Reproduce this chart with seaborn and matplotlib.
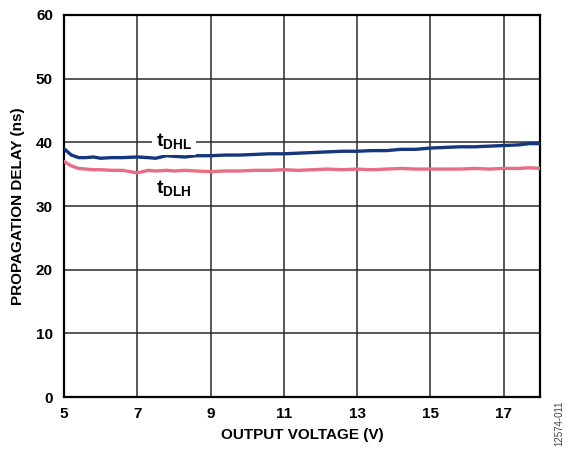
import matplotlib
matplotlib.use("Agg")
import matplotlib.pyplot as plt
import seaborn as sns
import pandas as pd

# Output voltage sweep (V)
voltage = [5.0, 5.2, 5.4, 5.6, 5.8, 6.0, 6.3, 6.6, 7.0, 7.3, 7.5, 7.8, 8.0, 8.3, 8.6, 9.0,
           9.4, 9.8, 10.2, 10.6, 11.0, 11.4, 11.8, 12.2, 12.6, 13.0, 13.4, 13.8, 14.2,
           14.6, 15.0, 15.4, 15.8, 16.2, 16.6, 17.0, 17.4, 17.7, 18.0]

# High-to-low propagation delay (ns)
t_dhl = [39.0, 38.0, 37.6, 37.6, 37.7, 37.5, 37.6, 37.6, 37.7, 37.6, 37.5, 37.9, 37.8,
         37.7, 37.9, 37.9, 38.0, 38.0, 38.1, 38.2, 38.2, 38.3, 38.4, 38.5, 38.6, 38.6,
         38.7, 38.7, 38.9, 38.9, 39.1, 39.2, 39.3, 39.3, 39.4, 39.5, 39.6, 39.8, 39.8]

# Low-to-high propagation delay (ns)
t_dlh = [37.0, 36.3, 35.9, 35.8, 35.7, 35.7, 35.6, 35.6, 35.2, 35.6, 35.5, 35.6, 35.5,
         35.6, 35.5, 35.4, 35.5, 35.5, 35.6, 35.6, 35.7, 35.6, 35.7, 35.8, 35.7, 35.8,
         35.7, 35.8, 35.9, 35.8, 35.8, 35.8, 35.8, 35.9, 35.8, 35.9, 35.9, 36.0, 35.9]

df = pd.DataFrame({"V": voltage, "tDHL": t_dhl, "tDLH": t_dlh})

sns.set_theme(style="white")
plt.rcParams["font.family"] = ["Liberation Sans", "DejaVu Sans"]
plt.rcParams["font.weight"] = "bold"
plt.rcParams["mathtext.fontset"] = "custom"
plt.rcParams["mathtext.bf"] = "Liberation Sans:bold"
plt.rcParams["mathtext.rm"] = "Liberation Sans:bold"
plt.rcParams["text.color"] = "black"
plt.rcParams["axes.labelcolor"] = "black"
plt.rcParams["xtick.color"] = "black"
plt.rcParams["ytick.color"] = "black"

fig = plt.figure(figsize=(5.68, 4.53), dpi=100)
ax = fig.add_axes([0.1127, 0.1236, 0.8385, 0.8433])

ax.set_xlim(5, 18)
ax.set_ylim(0, 60)
ax.set_xticks([5, 7, 9, 11, 13, 15, 17])
ax.set_yticks([0, 10, 20, 30, 40, 50, 60])
ax.grid(True, color="#2b2b2b", linewidth=1.1)
ax.set_axisbelow(True)

sns.lineplot(data=df, x="V", y="tDHL", ax=ax, color="#14377f", linewidth=2.4, zorder=3)
sns.lineplot(data=df, x="V", y="tDLH", ax=ax, color="#e96e84", linewidth=2.4, zorder=3)

for s in ax.spines.values():
    s.set_color("black")
    s.set_linewidth(1.6)

ax.tick_params(axis="y", length=0, labelsize=11, pad=8, labelcolor="black")
ax.tick_params(axis="x", length=0, labelsize=11, pad=7, labelcolor="black")
for lbl in ax.get_xticklabels() + ax.get_yticklabels():
    lbl.set_fontweight("bold")

ax.set_xlabel("OUTPUT VOLTAGE (V)", fontsize=11, fontweight="bold", labelpad=5, color="black")
ax.set_ylabel("PROPAGATION DELAY (ns)", fontsize=11, fontweight="bold", labelpad=8, color="black")

ax.text(8.0, 40.2, r"$\mathbf{t_{DHL}}$", fontsize=14, ha="center", va="center",
        color="black", zorder=4, bbox=dict(facecolor="white", edgecolor="none", pad=2.5))
ax.text(8.0, 32.9, r"$\mathbf{t_{DLH}}$", fontsize=14, ha="center", va="center",
        color="black", zorder=4)

fig.text(0.985, 0.065, "12574-011", rotation=90, fontsize=7, fontweight="normal",
         color="#444444", ha="center", va="center")

fig.savefig("out.png", dpi=100)
